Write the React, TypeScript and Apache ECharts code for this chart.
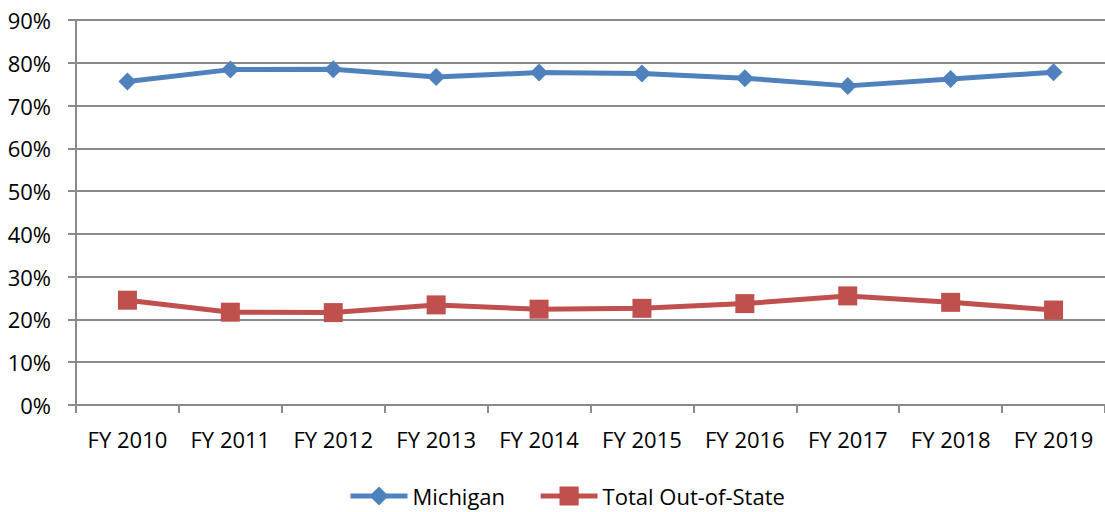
import React, { useEffect, useRef } from "react";
import * as echarts from "echarts";

const categories = ["FY 2010", "FY 2011", "FY 2012", "FY 2013", "FY 2014", "FY 2015", "FY 2016", "FY 2017", "FY 2018", "FY 2019"];
const michigan = [75.6, 78.4, 78.5, 76.7, 77.7, 77.5, 76.4, 74.6, 76.2, 77.8];
const outOfState = [24.5, 21.7, 21.6, 23.4, 22.4, 22.6, 23.7, 25.5, 24.0, 22.2];

const FONT = "Open Sans";
const GRAY = "#8a8a8a";

export default function App() {
  const ref = useRef<HTMLDivElement>(null);
  useEffect(() => {
    document.body.style.margin = "0";
    const chart = echarts.init(ref.current!, undefined, { renderer: "svg" });
    chart.setOption({
      animation: false,
      backgroundColor: "#ffffff",
      textStyle: { fontFamily: FONT },
      grid: { left: 76, top: 20, width: 1033, bottom: 107, containLabel: false },
      legend: {
        left: 343,
        top: 480,
        itemWidth: 57,
        itemHeight: 24,
        itemGap: 33,
        lineStyle: { width: 5 },
        textStyle: { fontFamily: FONT, fontSize: 22, color: "#000" },
        data: ["Michigan", "Total Out-of-State"],
      },
      xAxis: {
        type: "category",
        data: categories,
        boundaryGap: true,
        axisLine: { lineStyle: { color: GRAY, width: 2 } },
        axisTick: { show: true, length: 8, lineStyle: { color: GRAY, width: 2 } },
        axisLabel: { fontFamily: FONT, fontSize: 22, color: "#000", margin: 23, interval: 0 },
      },
      yAxis: {
        type: "value",
        min: 0,
        max: 90,
        interval: 10,
        axisLine: { show: true, lineStyle: { color: GRAY, width: 2 } },
        axisTick: { show: true, length: 8, lineStyle: { color: GRAY, width: 2 } },
        axisLabel: { fontFamily: FONT, fontSize: 22, color: "#000", margin: 25, formatter: "{value}%" },
        splitLine: { lineStyle: { color: GRAY, width: 2 } },
      },
      series: [
        {
          name: "Michigan",
          type: "line",
          data: michigan,
          symbol: "diamond",
          symbolSize: 18,
          lineStyle: { color: "#4F81BD", width: 5 },
          itemStyle: { color: "#4F81BD" },
        },
        {
          name: "Total Out-of-State",
          type: "line",
          data: outOfState,
          symbol: "rect",
          symbolSize: 19,
          lineStyle: { color: "#C0504D", width: 5 },
          itemStyle: { color: "#C0504D" },
        },
      ],
    });
    return () => chart.dispose();
  }, []);
  return <div ref={ref} style={{ width: 1105, height: 512, position: "absolute", left: 0, top: 0 }} />;
}
